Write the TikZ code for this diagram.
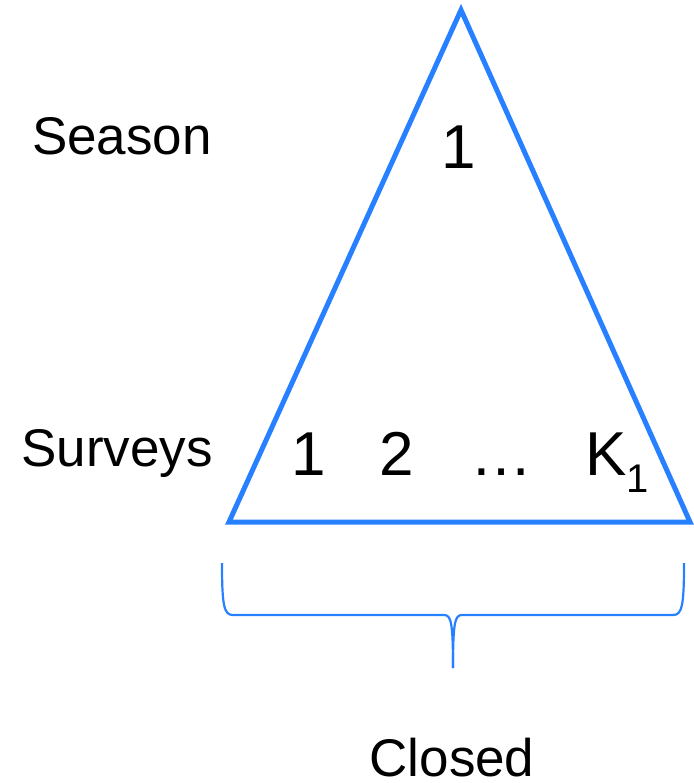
\documentclass[tikz,border=0pt]{standalone}
\usepackage{fontspec}
\setmainfont{Liberation Sans}
\definecolor{triblue}{HTML}{2680FF}
\begin{document}
\begin{tikzpicture}[x=1pt,y=-1pt,
  lbl/.style={inner sep=0pt,anchor=base,font=\fontsize{53}{60}\selectfont},
  num/.style={inner sep=0pt,anchor=base,font=\fontsize{62}{70}\selectfont},
  edge/.style={draw=triblue,line width=5pt,line join=miter},
  bracestyle/.style={draw=triblue,line width=2.2pt}]
\useasboundingbox (0,0) rectangle (693,783);
% triangle corners
\coordinate (apex) at (461,10);
\coordinate (bl) at (229,522);
\coordinate (br) at (690,522);
\draw[edge] (apex) -- (bl) -- (br) -- cycle;
% brace
\coordinate (bL) at (222,563);
\coordinate (bR) at (684,563);
\coordinate (tip) at (453,668);
\draw[bracestyle] (bL) .. controls (222,606) and (224,615) .. (233,615) -- (444,615)
  .. controls (451,615) and (453,622) .. (tip);
\draw[bracestyle] (bR) .. controls (684,606) and (682,615) .. (673,615) -- (462,615)
  .. controls (455,615) and (453,622) .. (tip);
% labels
\node[lbl] (season) at (122,155) {Season};
\node[lbl] (surveys) at (117,466) {Surveys};
\node[lbl] (closed) at (452,776) {Closed};
\node[num] (top1) at (459,169) {1};
\node[num] (s1) at (309,475) {1};
\node[num] (s2) at (397,475) {2};
\node[num] (sdots) at (501,475) {…};
\node[num,anchor=base west] (sK) at (585,475) {K\raisebox{-17pt}{\fontsize{40}{40}\selectfont 1}};
\end{tikzpicture}
\end{document}
